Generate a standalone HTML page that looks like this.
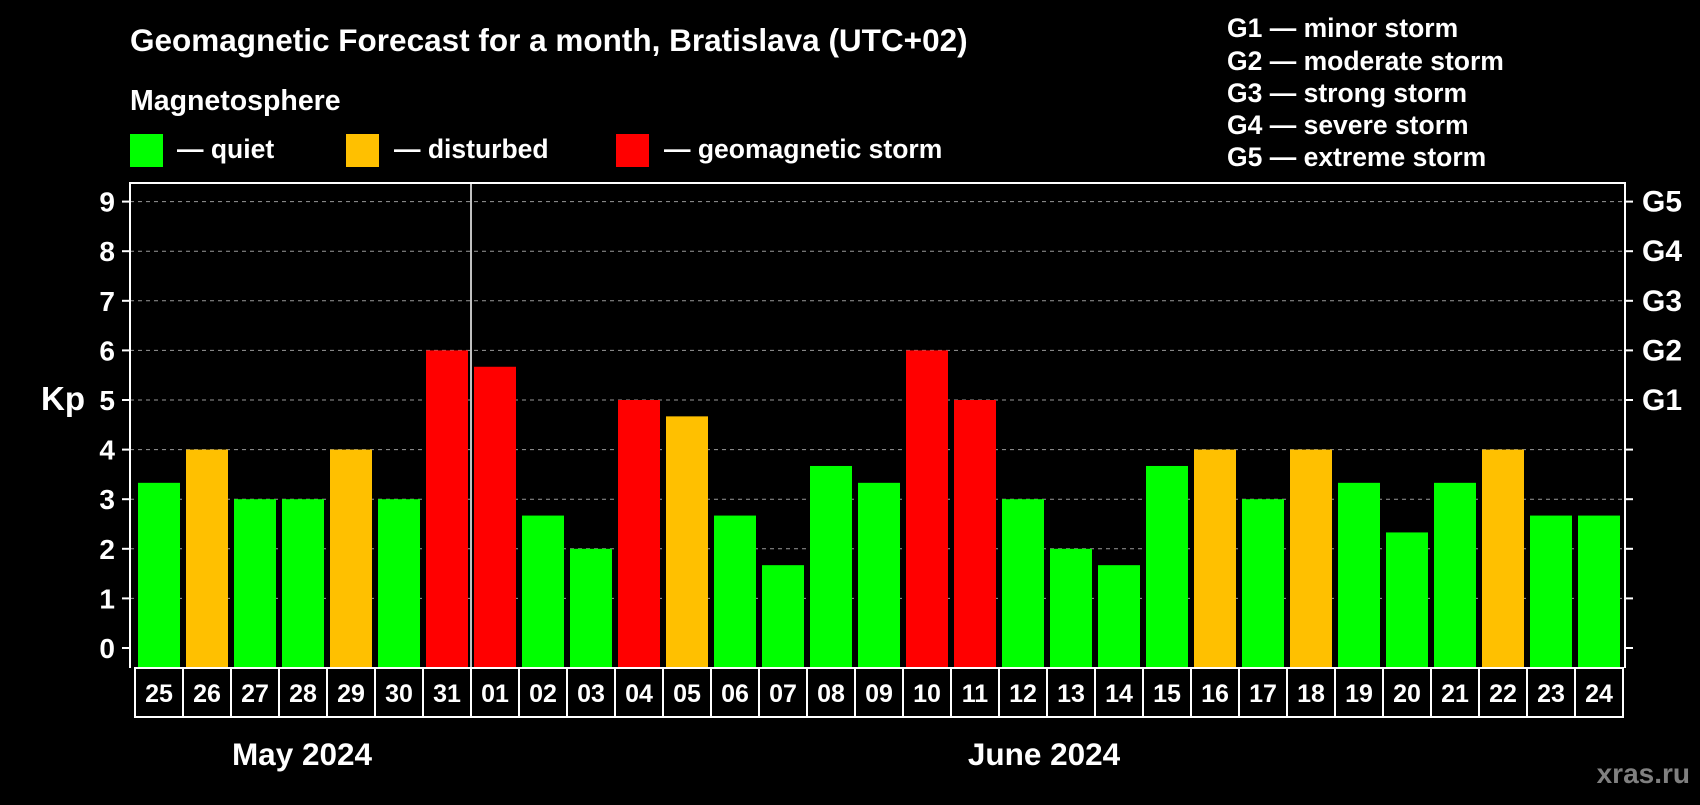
<!DOCTYPE html>
<html><head><meta charset="utf-8"><style>
body{margin:0;background:#000;width:1700px;height:800px;overflow:hidden;font-family:"Liberation Sans",sans-serif;}
svg text{font-family:"Liberation Sans",sans-serif;font-weight:bold;fill:#fff;}
</style></head><body>
<svg id="c" width="1700" height="800">
<text x="130" y="51" font-size="31.5">Geomagnetic Forecast for a month, Bratislava (UTC+02)</text>
<text x="130" y="110" font-size="28.5">Magnetosphere</text>
<rect x="130" y="134" width="33" height="33" fill="#00ff00"/>
<text x="177" y="158" font-size="26.5">— quiet</text>
<rect x="346" y="134" width="33" height="33" fill="#ffc000"/>
<text x="394" y="158" font-size="26.5">— disturbed</text>
<rect x="616" y="134" width="33" height="33" fill="#ff0000"/>
<text x="664" y="158" font-size="26.5">— geomagnetic storm</text>
<g font-size="26.5">
<text x="1227" y="37">G1 — minor storm</text>
<text x="1227" y="70">G2 — moderate storm</text>
<text x="1227" y="102">G3 — strong storm</text>
<text x="1227" y="134">G4 — severe storm</text>
<text x="1227" y="166">G5 — extreme storm</text>
</g>
<text x="41" y="410" font-size="33">Kp</text>
<text x="302" y="765" font-size="31.5" text-anchor="middle">May 2024</text>
<text x="1044" y="765" font-size="31.5" text-anchor="middle">June 2024</text>
<text x="1690" y="783" font-size="28" text-anchor="end" style="fill:#808080">xras.ru</text>
<g id="plot"></g>
</svg>
<script>
const days=["25","26","27","28","29","30","31","01","02","03","04","05","06","07","08","09","10","11","12","13","14","15","16","17","18","19","20","21","22","23","24"];
const kp=[3.33,4,3,3,4,3,6,5.67,2.67,2,5,4.67,2.67,1.67,3.67,3.33,6,5,3,2,1.67,3.67,4,3,4,3.33,2.33,3.33,4,2.67,2.67];
const yTicks=[0,1,2,3,4,5,6,7,8,9];
const gLabels=["","","","","","G1","G2","G3","G4","G5"];
const NS="http://www.w3.org/2000/svg";
const g=document.getElementById('plot');
const L=130,R=1625,T=183,B=668,cx0=135,cw=48;
const y=v=>648-49.6*v;
const x=i=>cx0+i*cw;
function mk(t,a,p){const e=document.createElementNS(NS,t);for(const k in a)e.setAttribute(k,a[k]);(p||g).appendChild(e);return e;}
yTicks.forEach((v,i)=>{
 if(v>0){const l=mk('line',{x1:L,x2:R,y1:y(v),y2:y(v),stroke:'#999','stroke-dasharray':'4,4','stroke-width':1});
 
 }
 const t1=mk('line',{x1:L-8,x2:L,y1:y(v),y2:y(v),stroke:'#fff','stroke-width':2});
 
 
 const t2=mk('line',{x1:R,x2:R+8,y1:y(v),y2:y(v),stroke:'#fff','stroke-width':2});
 
 
 const tx=mk('text',{x:115,y:y(v)+10,'font-size':28,'text-anchor':'end'});tx.textContent=v;
 
 
 if(gLabels[i]){const gt=mk('text',{x:1642,y:y(v)+10,'font-size':30});gt.textContent=gLabels[i];
 
 }
});
kp.forEach((v,i)=>{
 const c=v>=5?'#ff0000':v>=4?'#ffc000':'#00ff00';
 const r=mk('rect',{x:x(i)+3,y:y(v),width:cw-6,height:B-y(v),fill:c});
 
 
 const cell=mk('rect',{x:x(i),y:B,width:cw,height:49,fill:'none',stroke:'#fff','stroke-width':2});
 
 
 const t=mk('text',{x:x(i)+cw/2,y:B+34,'font-size':25,'text-anchor':'middle'});t.textContent=days[i];
 
 
});
const f=mk('path',{d:`M${L},${B}V${T}H${R}V${B}`,fill:'none',stroke:'#fff','stroke-width':2});


const sep=mk('line',{x1:x(7),x2:x(7),y1:T,y2:B,stroke:'#fff','stroke-width':1.5});


</script>
</body></html>
